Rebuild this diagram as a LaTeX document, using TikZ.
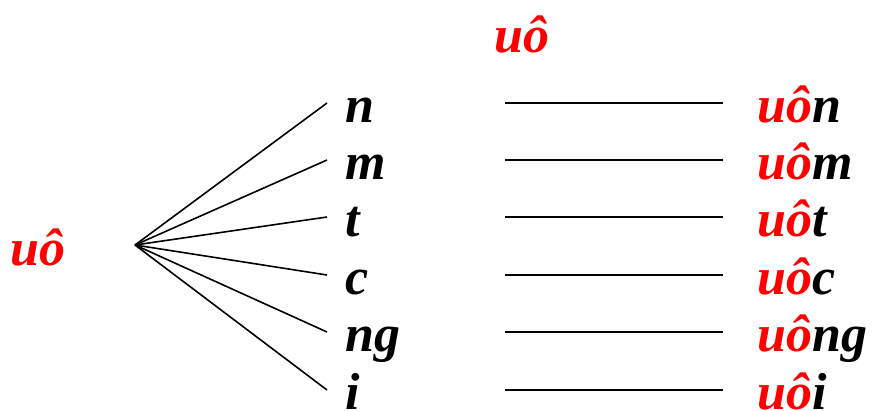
\documentclass[tikz,border=0pt]{standalone}
\usepackage{fontspec}
\setmainfont{Liberation Serif}
\usepackage{tikz}

\tikzset{
  vowel/.style={font=\fontsize{52}{60}\selectfont\bfseries\itshape, text=red, inner sep=0pt},
  fin/.style={font=\fontsize{52}{60}\selectfont\bfseries\itshape, text height=40pt, text depth=2pt, inner ysep=0pt},
}

\begin{document}
\begin{tikzpicture}[x=1pt,y=-1pt,line width=1.6pt]
    \useasboundingbox (0,0) rectangle (872,410);
    \node[vowel,anchor=base] (top) at (522,52) {uô};
    \node[vowel,anchor=base west] (left) at (10,265) {uô};
    \coordinate (hub) at (135,245);
    \foreach \fin/\yy [count=\i] in {n/103,m/160,t/217,c/275,ng/332,i/390}{
      \node[fin,anchor=west,inner xsep=18pt] (f\i) at (327,\yy) {\fin};
      \node[fin,anchor=west,inner xsep=34pt] (w\i) at (723,\yy) {\textcolor{red}{uô}\fin};
      \coordinate (s\i) at (505,\yy);
      \draw (hub) -- (f\i.west);
      \draw (s\i) -- (w\i.west);
    }
\end{tikzpicture}
\end{document}
